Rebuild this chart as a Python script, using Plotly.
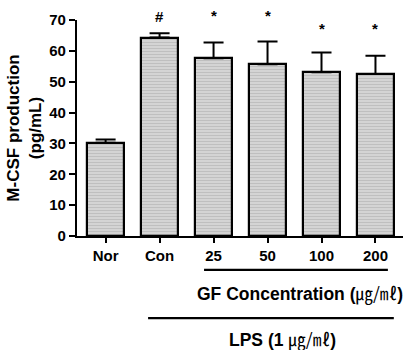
import plotly.graph_objects as go

categories = ["Nor", "Con", "25", "50", "100", "200"]
values = [30.2, 64.3, 57.6, 55.7, 53.1, 52.5]
err_upper = [1.1, 1.4, 5.1, 7.3, 6.4, 5.9]
marks = ["", "#", "*", "*", "*", "*"]
mark_y = [None, 71.0, 71.4, 71.4, 67.3, 67.3]

FONT = "Liberation Sans, Arial, sans-serif"
YMAX = 70
x = list(range(len(categories)))

fig = go.Figure()
fig.add_trace(go.Bar(
    x=x, y=values, width=0.685,
    marker=dict(color="#cfcfcf", line=dict(color="black", width=2.2),
                pattern=dict(shape="-", bgcolor="#d4d4d4", fgcolor="#a9a9a9", size=3, solidity=0.35)),
    error_y=dict(type="data", symmetric=False, array=err_upper, arrayminus=[0]*6,
                 color="black", thickness=2, width=10),
    showlegend=False,
))

for xi, m, my in zip(x, marks, mark_y):
    if m:
        fig.add_annotation(x=xi, y=my / YMAX, xref="x", yref="paper", text="<b>%s</b>" % m,
                           showarrow=False, font=dict(family=FONT, size=15, color="black"),
                           yanchor="middle")

# group lines and labels below axis
fig.add_shape(type="line", xref="x", yref="paper", x0=1.824, x1=5.23, y0=-0.157, y1=-0.157,
              line=dict(color="black", width=2.2))
fig.add_shape(type="line", xref="x", yref="paper", x0=0.787, x1=5.34, y0=-0.380, y1=-0.380,
              line=dict(color="black", width=2.2))
fig.add_annotation(x=3.6, y=-0.328, xref="x", yref="paper", showarrow=False,
                   text="<b>GF Concentration (</b><span style='font-family:Noto Sans CJK KR'>㎍/㎖</span><b>)</b>",
                   font=dict(family=FONT, size=17.5, color="black"))
fig.add_annotation(x=3.27, y=-0.543, xref="x", yref="paper", showarrow=False,
                   text="<b>LPS (1 </b><span style='font-family:Noto Sans CJK KR'>㎍/㎖</span><b>)</b>",
                   font=dict(family=FONT, size=17.5, color="black"))

fig.update_layout(
    width=406, height=350,
    margin=dict(l=77, r=3, t=20, b=114),
    paper_bgcolor="white", plot_bgcolor="white",
    font=dict(family=FONT, color="black"),
    bargap=0,
)
fig.update_xaxes(
    range=[-0.53, 5.51], tickmode="array", tickvals=x,
    ticktext=["<b>%s</b>" % c for c in categories],
    showline=True, linecolor="black", linewidth=2.2, ticks="outside", ticklen=5,
    tickwidth=2, tickcolor="black", showgrid=False, zeroline=False,
    tickfont=dict(family=FONT, size=15, color="black"),
)
fig.update_yaxes(
    range=[0, YMAX], tickvals=[0, 10, 20, 30, 40, 50, 60, 70],
    ticktext=["<b>%d</b>" % v for v in [0, 10, 20, 30, 40, 50, 60, 70]],
    showline=True, linecolor="black", linewidth=2.2, ticks="outside", ticklen=6,
    tickwidth=2, tickcolor="black", showgrid=False, zeroline=False,
    tickfont=dict(family=FONT, size=15, color="black"),
    title=dict(text="<b>M-CSF production<br>(pg/mL)</b>", font=dict(family=FONT, size=17, color="black"), standoff=3),
)

fig.write_html("out.html")
